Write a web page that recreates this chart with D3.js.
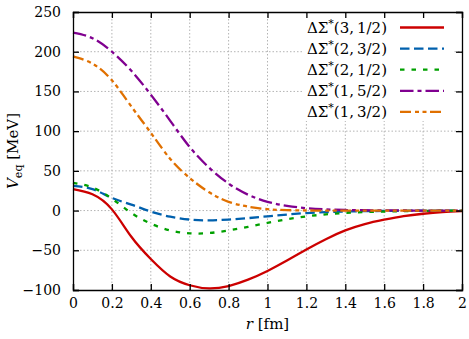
<!DOCTYPE html>
<html>
<head>
<meta charset="utf-8">
<script src="https://cdn.jsdelivr.net/npm/d3@7"></script>
<style>
  body { margin: 0; background: #fff; }
  .axis path, .axis line { stroke: #000; stroke-width: 1.3; }
  .grid line { stroke: #b4b4b4; stroke-width: 1; stroke-dasharray: 1.5 2; }
</style>
</head>
<body>
<div class="chart"></div>
<script>
const FONT = "'DejaVu Serif', 'Liberation Serif', serif"

const R_VALUES = [0, 0.1, 0.2, 0.3, 0.4, 0.5, 0.6, 0.7, 0.8, 0.9, 1.0, 1.1, 1.2, 1.3, 1.4, 1.5, 1.6, 1.7, 1.8, 1.9, 2.0]
const SIGMA_3_12 = [27, 20.5, 1.5, -33, -61, -83, -94, -98, -95, -87, -76, -63, -49, -36, -25, -17, -11.5, -7, -4, -2, -0.8]
const SIGMA_2_32 = [31, 27, 16, 7.5, -1.3, -7.7, -11.3, -12.3, -11.3, -9.5, -7.2, -5, -3.2, -2, -1.2, -0.7, -0.4, -0.2, -0.1, 0, 0]
const SIGMA_2_12 = [35, 29, 15, -3, -16.5, -25, -28.7, -28.3, -25, -20.5, -15.5, -11, -7.3, -4.8, -3, -1.9, -1.2, -0.7, -0.4, -0.2, -0.1]
const SIGMA_1_52 = [224, 217, 200, 176, 146, 113, 80, 54, 34, 20, 11, 6, 3, 1.5, 0.7, 0.4, 0.2, 0.1, 0, 0, 0]
const SIGMA_1_32 = [194, 185, 164, 131, 98, 65, 41, 23, 11, 5, 1.7, 0.5, 0.1, 0, 0, 0, 0, 0, 0, 0, 0]

const X_TICKS = [0, 0.2, 0.4, 0.6, 0.8, 1, 1.2, 1.4, 1.6, 1.8, 2]
const Y_TICKS = [-100, -50, 0, 50, 100, 150, 200, 250]

// legend label parts: (n, s)
const SERIES = [
  { n: '3', s: '1/2', values: SIGMA_3_12, color: '#cc0000', dash: null },
  { n: '2', s: '3/2', values: SIGMA_2_32, color: '#0060ad', dash: '9.5 4.5' },
  { n: '2', s: '1/2', values: SIGMA_2_12, color: '#00a000', dash: '4.5 7' },
  { n: '1', s: '5/2', values: SIGMA_1_52, color: '#800090', dash: '13.5 4 4 4' },
  { n: '1', s: '3/2', values: SIGMA_1_32, color: '#e07000', dash: '11 4 4 3.5 4 3.5' }
]

const width = 469
const height = 339
const margin = { top: 12, right: 7, bottom: 49, left: 73 }
const plotW = width - margin.left - margin.right
const plotH = height - margin.top - margin.bottom

const svg = d3.select('.chart').append('svg')
  .attr('width', width)
  .attr('height', height)
  .style('display', 'block')

const g = svg.append('g')
  .attr('transform', `translate(${margin.left},${margin.top})`)

const scaleX = d3.scaleLinear().domain([0, 2]).range([0, plotW])
const scaleY = d3.scaleLinear().domain([-100, 250]).range([plotH, 0])

// grid
const grid = g.append('g').attr('class', 'grid')
grid.selectAll('line.gx').data(X_TICKS.slice(1, -1)).enter().append('line')
  .attr('class', 'gx')
  .attr('x1', d => scaleX(d)).attr('x2', d => scaleX(d))
  .attr('y1', 0).attr('y2', plotH)
grid.selectAll('line.gy').data(Y_TICKS.slice(1, -1)).enter().append('line')
  .attr('class', 'gy')
  .attr('y1', d => scaleY(d)).attr('y2', d => scaleY(d))
  .attr('x1', 0).attr('x2', plotW)

// curves
const line = d3.line()
  .x((d, i) => scaleX(R_VALUES[i]))
  .y(d => scaleY(d))
  .curve(d3.curveNatural)

g.append('g').selectAll('path').data(SERIES).enter().append('path')
  .attr('d', d => line(d.values))
  .attr('fill', 'none')
  .attr('stroke', d => d.color)
  .attr('stroke-width', 2.3)
  .attr('stroke-dasharray', d => d.dash)

// legend
const legend = g.append('g')
legend.append('rect')
  .attr('x', 230).attr('y', 1)
  .attr('width', 150).attr('height', 108)
  .attr('fill', '#fff')

const item = legend.selectAll('g.item').data(SERIES).enter().append('g')
  .attr('class', 'item')
  .attr('transform', (d, i) => `translate(0,${15.5 + i * 21.1})`)

item.append('line')
  .attr('x1', 327).attr('x2', 371)
  .attr('stroke', d => d.color)
  .attr('stroke-width', 2.3)
  .attr('stroke-dasharray', d => d.dash)

const label = item.append('text')
  .attr('x', 314)
  .attr('y', 5.5)
  .attr('text-anchor', 'end')
  .style('font-family', FONT)
  .attr('font-size', 15)
  .attr('fill', '#000')
label.append('tspan').text('ΔΣ')
label.append('tspan').attr('dy', -6).attr('font-size', 11).text('*')
label.append('tspan').attr('dy', 6).text(d => `(${d.n},\u2009${d.s})`)

// axes
const axisBottom = d3.axisBottom(scaleX).tickValues(X_TICKS).tickSize(-6).tickPadding(8).tickFormat(d3.format('~g'))
const axisTop = d3.axisTop(scaleX).tickValues(X_TICKS).tickSize(-6).tickFormat('')
const axisLeft = d3.axisLeft(scaleY).tickValues(Y_TICKS).tickSize(-6).tickPadding(12)
const axisRight = d3.axisRight(scaleY).tickValues(Y_TICKS).tickSize(-6).tickFormat('')

g.append('g').attr('class', 'axis').attr('transform', `translate(0,${plotH})`).call(axisBottom)
g.append('g').attr('class', 'axis').call(axisTop)
g.append('g').attr('class', 'axis').call(axisLeft)
g.append('g').attr('class', 'axis').attr('transform', `translate(${plotW},0)`).call(axisRight)

g.selectAll('.axis text')
  .style('font-family', FONT)
  .attr('font-size', 14)

// axis labels
const xLabel = svg.append('text')
  .attr('x', margin.left + plotW / 2)
  .attr('y', 329)
  .attr('text-anchor', 'middle')
  .style('font-family', FONT)
  .attr('font-size', 15)
xLabel.append('tspan').attr('font-style', 'italic').text('r')
xLabel.append('tspan').text(' [fm]')

const yLabel = svg.append('text')
  .attr('transform', `translate(18,${margin.top + plotH / 2}) rotate(-90)`)
  .attr('text-anchor', 'middle')
  .style('font-family', FONT)
  .attr('font-size', 15)
yLabel.append('tspan').attr('font-style', 'italic').text('V')
yLabel.append('tspan').attr('dy', 4).attr('font-size', 11).text('eq')
yLabel.append('tspan').attr('dy', -4).text(' [MeV]')
</script>
</body>
</html>
